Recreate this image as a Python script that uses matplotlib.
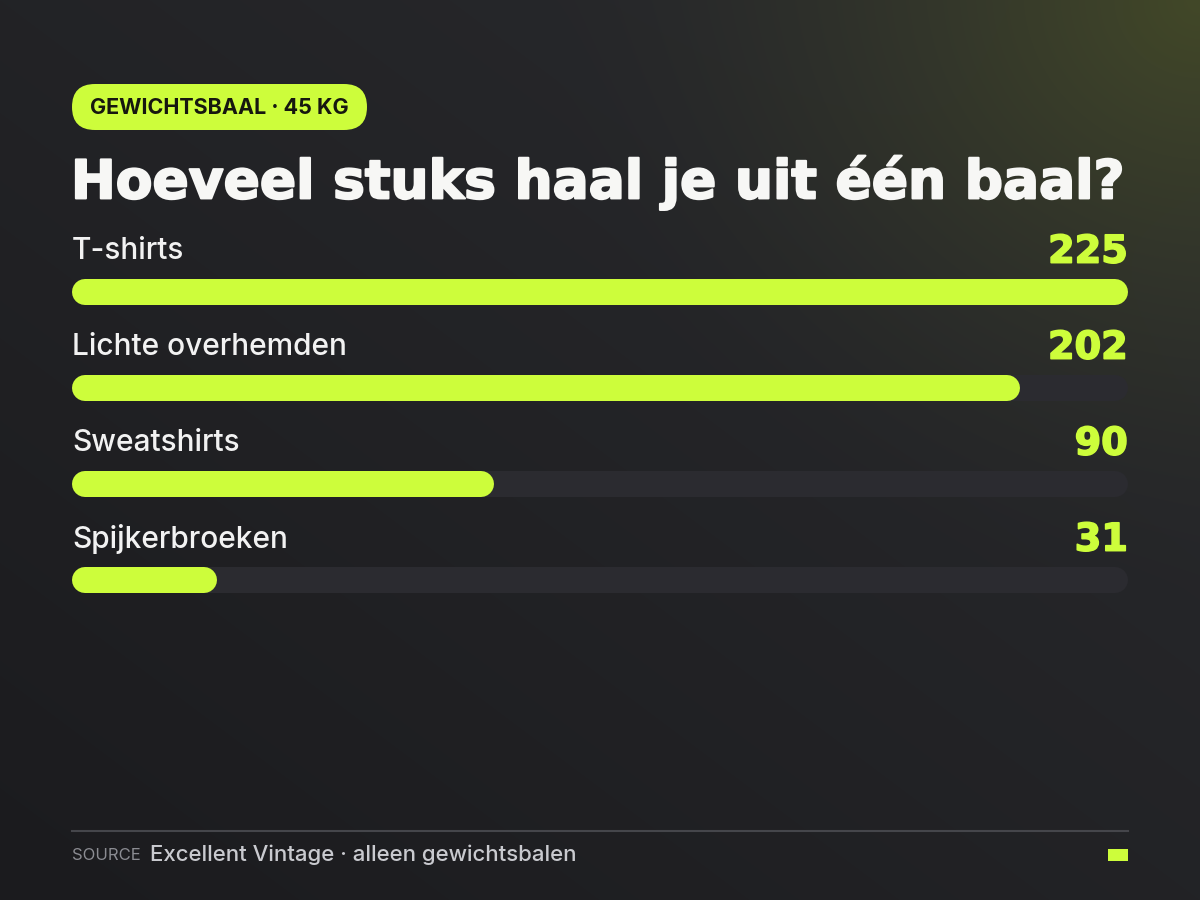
import numpy as np
import matplotlib
matplotlib.use("Agg")
import matplotlib.pyplot as plt
import matplotlib.patheffects as pe
from matplotlib.patches import FancyBboxPatch

categories = ["T-shirts", "Lichte overhemden", "Sweatshirts", "Spijkerbroeken"]
pieces = [225, 202, 90, 31]
max_val = 225
tag = "GEWICHTSBAAL · 45 KG"
title = "Hoeveel stuks haal je uit één baal?"
source = "Excellent Vintage · alleen gewichtsbalen"

LIME = "#cdfd3b"
TRACK = "#2b2b30"
W, H = 1200, 900

fig = plt.figure(figsize=(12, 9), dpi=100)

#### background gradient ####
bg = fig.add_axes([0, 0, 1, 1])
yy, xx = np.mgrid[0:H, 0:W]
t = (xx / W * 0.5 + (1 - yy / H) * 0.5)
base = np.array([0x1b, 0x1b, 0x1e]) * (1 - t[..., None]) + np.array([0x2a, 0x2b, 0x2e]) * t[..., None]
d = np.sqrt((xx - W) ** 2 + (yy * 1.1) ** 2) / 650
glow = np.clip(1 - d, 0, 1) ** 1.6
green = np.array([0x42, 0x48, 0x28])
img = base * (1 - glow[..., None]) + green * glow[..., None]
bg.imshow(img / 255, extent=[0, W, H, 0], aspect="auto")
bg.set_xlim(0, W)
bg.set_ylim(H, 0)
bg.axis("off")

# tag pill
bg.add_patch(FancyBboxPatch((72, 84), 295, 46, boxstyle="round,pad=0,rounding_size=23",
                            fc=LIME, ec="none"))
bg.text(219, 108, tag, color="#16170f", fontsize=15.5, fontweight="bold",
        family="Inter", ha="center", va="center")
title_txt = bg.text(71, 183, title, color="#f7f7f5", fontsize=38.5, fontweight="bold",
                    family="DejaVu Sans", ha="left", va="center")
title_txt.set_path_effects([pe.withStroke(linewidth=1.5, foreground="#f7f7f5")])

# footer
bg.plot([72, 1128], [831, 831], color="#45464b", lw=1.5)
bg.text(72, 855, "SOURCE", color="#8b8c92", fontsize=12, family="Inter", ha="left", va="center")
bg.text(150, 855, source, color="#c9cacf", fontsize=16, fontweight="medium",
        family="Inter", ha="left", va="center")
bg.add_patch(plt.Rectangle((1108, 849), 20, 12, fc=LIME, ec="none"))

#### bars ####
top_px, bot_px = 220, 610
ax = fig.add_axes([72 / W, 1 - bot_px / H, 1056 / W, (bot_px - top_px) / H])
ax.set_xlim(0, max_val)
ax.set_ylim((bot_px - 292) / 96, (top_px - 292) / 96)
ax.axis("off")
ax.patch.set_alpha(0)

lw = 26 * 0.72
r = 13 / 1056 * max_val
for i, (cat, v) in enumerate(zip(categories, pieces)):
    ax.plot([r, max_val - r], [i, i], color=TRACK, lw=lw, solid_capstyle="round")
    ax.plot([r, v - r], [i, i], color=LIME, lw=lw, solid_capstyle="round")
    ax.text(0, i - 0.43, cat, color="#f2f2f2", fontsize=21.5, fontweight="medium",
            family="Inter", ha="left", va="center")
    num = ax.text(max_val, i - 0.41, str(v), color=LIME, fontsize=27.5, fontweight="bold",
                  family="DejaVu Sans", ha="right", va="center")
    num.set_path_effects([pe.withStroke(linewidth=1.2, foreground=LIME)])

fig.savefig("out.png", dpi=100)
